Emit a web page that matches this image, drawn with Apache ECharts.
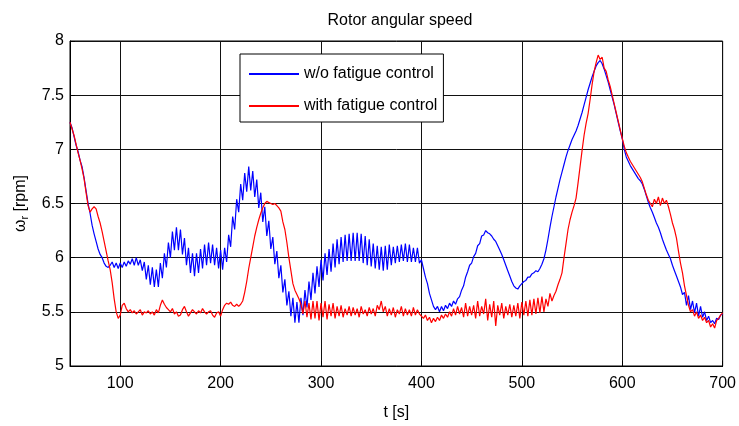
<!DOCTYPE html>
<html>
<head>
<meta charset="utf-8">
<script src="https://cdn.jsdelivr.net/npm/echarts@6/dist/echarts.min.js"></script>
<style>html,body{margin:0;padding:0;background:#fff}#c{width:739px;height:426px}</style>
</head>
<body>
<div id="c"></div>
<script>
// Sampling grid (s)
const T_START = 50;
const T_STEP = 2;
const xTicks = [100, 200, 300, 400, 500, 600, 700];
const seriesNames = ['w/o fatigue control', 'with fatigue control'];

// Rotor angular speed (rpm), w/o fatigue control
const speedNoControl = [
7.25,7.2,7.12,7.04,6.98,6.9,6.84,6.74,6.62,6.5,
6.41,6.3,6.22,6.15,6.08,6.03,6.0,5.95,5.92,5.91,
5.93,5.96,5.91,5.95,5.9,5.95,5.91,5.96,5.92,5.97,
5.94,5.99,5.93,6.0,5.93,5.98,5.88,5.96,5.8,5.93,
5.75,5.91,5.73,5.89,5.73,5.95,5.81,6.04,5.91,6.14,
6.0,6.24,6.07,6.28,6.07,6.26,6.03,6.18,5.93,6.09,
5.86,6.04,5.83,6.04,5.86,6.08,5.9,6.12,5.93,6.14,
5.95,6.12,5.93,6.09,5.9,6.07,5.89,6.09,5.96,6.21,
6.1,6.38,6.26,6.54,6.42,6.68,6.53,6.78,6.61,6.84,
6.62,6.8,6.56,6.72,6.46,6.6,6.33,6.47,6.2,6.34,
6.08,6.19,5.94,6.06,5.81,5.93,5.68,5.8,5.56,5.69,
5.46,5.63,5.4,5.59,5.4,5.63,5.47,5.7,5.54,5.78,
5.61,5.86,5.67,5.92,5.73,5.98,5.79,6.04,5.84,6.08,
5.87,6.13,5.91,6.17,5.94,6.19,5.96,6.21,5.97,6.22,
5.97,6.23,5.97,6.23,5.97,6.22,5.95,6.2,5.93,6.17,
5.92,6.13,5.9,6.11,5.89,6.1,5.88,6.11,5.89,6.12,
5.93,6.1,5.95,6.11,5.96,6.12,5.97,6.13,5.96,6.12,
5.96,6.09,5.96,6.09,5.95,5.98,5.9,5.82,5.76,5.67,
5.61,5.55,5.52,5.55,5.5,5.55,5.51,5.56,5.53,5.58,
5.55,5.6,5.57,5.62,5.64,5.7,5.74,5.82,5.87,5.93,
5.95,6.01,6.04,6.11,6.13,6.2,6.21,6.25,6.23,6.22,
6.2,6.17,6.15,6.11,6.07,6.03,5.98,5.93,5.88,5.83,
5.78,5.74,5.72,5.71,5.74,5.76,5.78,5.79,5.82,5.82,
5.85,5.86,5.88,5.87,5.9,5.94,5.99,6.07,6.17,6.28,
6.38,6.47,6.56,6.64,6.72,6.79,6.86,6.93,6.99,7.04,
7.09,7.13,7.17,7.22,7.28,7.34,7.41,7.48,7.55,7.61,
7.67,7.72,7.77,7.8,7.82,7.79,7.74,7.68,7.62,7.55,
7.48,7.41,7.33,7.25,7.17,7.1,7.0,6.93,6.89,6.85,
6.82,6.79,6.76,6.73,6.71,6.68,6.63,6.57,6.51,6.46,
6.42,6.37,6.32,6.28,6.23,6.17,6.12,6.07,6.03,5.99,
5.93,5.88,5.83,5.78,5.73,5.66,5.68,5.56,5.65,5.52,
5.6,5.49,5.58,5.46,5.55,5.45,5.5,5.42,5.46,5.4,
5.42,5.39,5.44,5.43,5.47,5.48
];

// Rotor angular speed (rpm), with fatigue control
const speedWithControl = [
7.25,7.19,7.13,7.05,6.97,6.9,6.82,6.73,6.6,6.48,
6.42,6.45,6.47,6.45,6.38,6.32,6.24,6.15,6.06,5.97,
5.89,5.77,5.62,5.5,5.44,5.47,5.56,5.58,5.53,5.5,
5.52,5.49,5.51,5.48,5.5,5.52,5.47,5.5,5.49,5.51,
5.48,5.5,5.47,5.52,5.49,5.56,5.61,5.57,5.54,5.52,
5.5,5.53,5.48,5.5,5.46,5.47,5.52,5.55,5.5,5.46,
5.49,5.52,5.5,5.48,5.51,5.49,5.53,5.5,5.48,5.5,
5.51,5.47,5.45,5.49,5.5,5.46,5.52,5.56,5.58,5.57,
5.59,5.56,5.55,5.57,5.55,5.57,5.6,5.68,5.78,5.9,
6.0,6.1,6.2,6.28,6.35,6.41,6.46,6.5,6.52,6.51,
6.5,6.49,6.5,6.48,6.46,6.43,6.33,6.26,6.14,6.0,
5.88,5.76,5.7,5.66,5.62,5.57,5.48,5.6,5.45,5.58,
5.43,5.6,5.44,5.6,5.42,5.58,5.45,5.6,5.43,5.57,
5.46,5.58,5.44,5.55,5.46,5.56,5.45,5.53,5.47,5.55,
5.46,5.54,5.47,5.53,5.45,5.55,5.48,5.52,5.46,5.54,
5.48,5.53,5.46,5.56,5.52,5.6,5.5,5.55,5.46,5.53,
5.47,5.54,5.45,5.52,5.48,5.55,5.46,5.53,5.47,5.52,
5.46,5.54,5.47,5.52,5.48,5.46,5.44,5.47,5.42,5.45,
5.4,5.44,5.41,5.45,5.42,5.47,5.44,5.48,5.45,5.5,
5.46,5.53,5.47,5.55,5.48,5.54,5.45,5.58,5.46,5.55,
5.47,5.56,5.44,5.6,5.46,5.55,5.48,5.62,5.42,5.57,
5.45,5.6,5.37,5.56,5.47,5.58,5.44,5.55,5.47,5.57,
5.45,5.56,5.46,5.58,5.44,5.59,5.47,5.6,5.46,5.61,
5.47,5.62,5.48,5.63,5.49,5.64,5.5,5.62,5.55,5.67,
5.6,5.65,5.69,5.75,5.8,5.86,6.0,6.13,6.26,6.35,
6.42,6.48,6.55,6.69,6.84,6.99,7.13,7.24,7.33,7.46,
7.6,7.72,7.8,7.87,7.83,7.85,7.75,7.72,7.64,7.58,
7.5,7.42,7.34,7.26,7.18,7.1,7.03,6.97,6.93,6.89,
6.86,6.83,6.8,6.77,6.74,6.7,6.64,6.58,6.53,6.5,
6.47,6.54,6.5,6.56,6.48,6.55,6.5,6.53,6.47,6.4,
6.32,6.26,6.18,6.06,5.95,5.86,5.74,5.65,5.56,5.5,
5.52,5.46,5.5,5.44,5.47,5.42,5.45,5.4,5.42,5.36,
5.39,5.35,5.42,5.44,5.47,5.49
];

const toPairs = arr => arr.map((v, i) => [T_START + i * T_STEP, v]);
const FONT = '"Liberation Sans", Arial, sans-serif';

const chart = echarts.init(document.getElementById('c'), null, {renderer: 'canvas'});
chart.setOption({
  animation: false,
  backgroundColor: '#fff',
  textStyle: {fontFamily: FONT, color: '#000'},
  title: {
    text: 'Rotor angular speed',
    left: 395, top: 8, textAlign: 'center',
    textStyle: {fontFamily: FONT, fontSize: 16, fontWeight: 'normal', color: '#000'}
  },
  legend: {
    orient: 'vertical',
    left: 240, top: 54,
    padding: [12, 6, 8, 8],
    itemWidth: 50, itemHeight: 14, itemGap: 16,
    backgroundColor: '#fff',
    borderColor: '#000', borderWidth: 1,
    itemStyle: {opacity: 0},
    textStyle: {fontFamily: FONT, fontSize: 16, color: '#000'},
    data: seriesNames
  },
  grid: {
    left: 70, right: 14, top: 41, bottom: 59,
    show: true, borderColor: '#000', borderWidth: 1, backgroundColor: '#fff'
  },
  xAxis: {
    type: 'value', min: 50, max: 700,
    name: 't [s]', nameLocation: 'middle', nameGap: 39,
    nameTextStyle: {fontFamily: FONT, fontSize: 16, color: '#000'},
    axisLine: {show: true, lineStyle: {color: '#000'}},
    axisTick: {show: true, inside: true, length: 5, customValues: xTicks, lineStyle: {color: '#000'}},
    axisLabel: {customValues: xTicks, margin: 10, fontFamily: FONT, fontSize: 16, color: '#000'},
    splitLine: {show: true, lineStyle: {color: '#111', width: 1}}
  },
  yAxis: {
    type: 'value', min: 5, max: 8, interval: 0.5,
    name: '{a|ω}{b|r}{a| [rpm]}', nameLocation: 'middle', nameGap: 31,
    nameTextStyle: {
      fontFamily: FONT, fontSize: 16, color: '#000',
      rich: {
        a: {fontFamily: FONT, fontSize: 16, color: '#000', lineHeight: 20},
        b: {fontFamily: FONT, fontSize: 11, color: '#000', lineHeight: 11, padding: [9, 0, 0, 0]}
      }
    },
    axisLine: {show: true, lineStyle: {color: '#000'}},
    axisTick: {show: true, inside: true, length: 5, lineStyle: {color: '#000'}},
    axisLabel: {margin: 6, fontFamily: FONT, fontSize: 16, color: '#000'},
    splitLine: {show: true, lineStyle: {color: '#111', width: 1}}
  },
  series: [
    {
      name: seriesNames[0], type: 'line', data: toPairs(speedNoControl),
      symbol: 'none', lineStyle: {color: '#0000ff', width: 1.2}, itemStyle: {color: '#0000ff'}, z: 2
    },
    {
      name: seriesNames[1], type: 'line', data: toPairs(speedWithControl),
      symbol: 'none', lineStyle: {color: '#ff0000', width: 1.2}, itemStyle: {color: '#ff0000'}, z: 3
    }
  ]
});
</script>
</body>
</html>
